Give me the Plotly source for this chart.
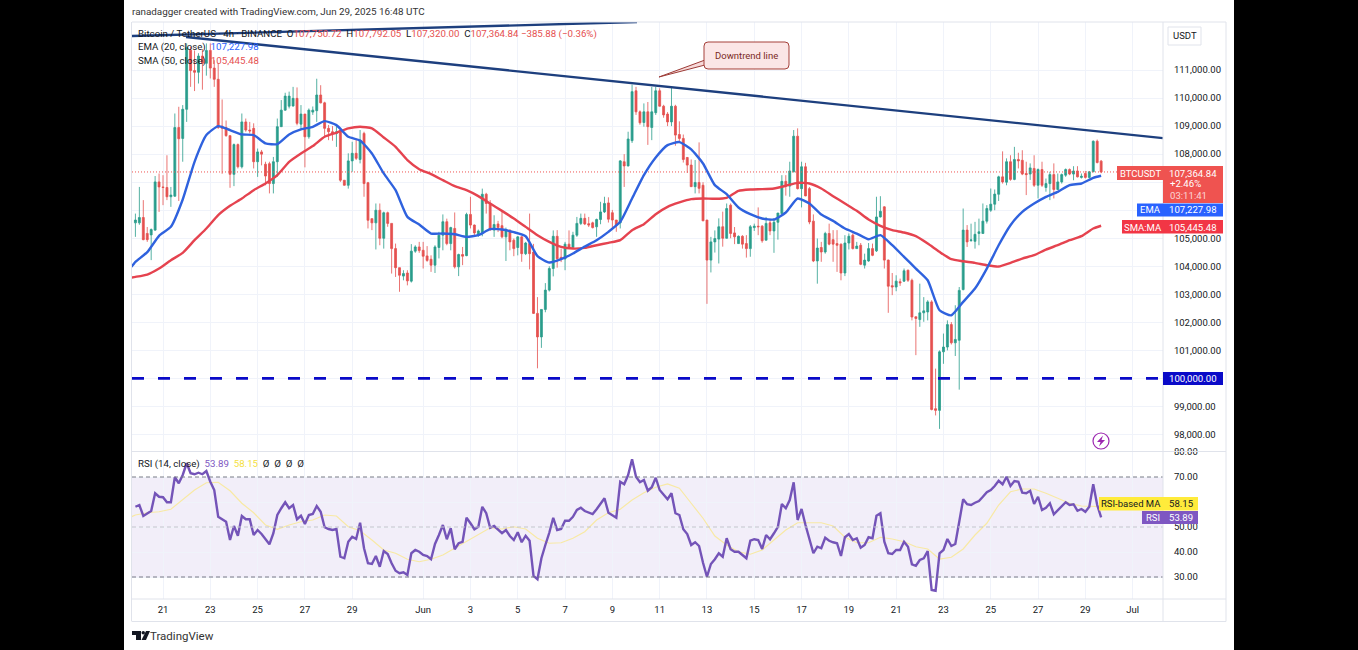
import pandas as pd
import plotly.graph_objects as go

# 4h candles, first one is May 19 20:00
opens = [
    105550, 105550, 105740, 105170, 105120, 105290, 107010, 106830, 106810, 106480,
    106500, 108950, 108560, 109600, 111710, 110980, 110920, 111500, 111240, 111700,
    111070, 110670, 109000, 108950, 108660, 107280, 108340, 107550, 109150, 108860,
    108920, 107730, 108080, 107640, 107660, 106950, 107730, 108980, 109570, 109710,
    109720, 109990, 109070, 109430, 108620, 109500, 109550, 110110, 109830, 108920,
    108800, 108740, 108860, 107070, 106890, 107760, 108030, 107810, 108740, 106980,
    105700, 105550, 106000, 105000, 105910, 105530, 104630, 103950, 103650, 103760,
    103470, 104540, 104690, 104570, 104370, 104250, 104040, 104670, 105110, 105590,
    104810, 105350, 103980, 104420, 104380, 105850, 105470, 105110, 105170, 106570,
    106240, 105290, 105510, 105450, 105050, 105290, 104930, 104670, 105050, 104450,
    104810, 104510, 102320, 101480, 102460, 103150, 103920, 105070, 104320, 104260,
    104790, 104680, 105110, 105530, 105710, 105520, 105550, 105410, 105670, 105940,
    106260, 105910, 105650, 105550, 107730, 107580, 108480, 110260, 109510, 109130,
    109510, 108950, 109480, 110260, 109710, 109430, 109150, 109710, 108700, 108560,
    107880, 107610, 106840, 106990, 106890, 105650, 104220, 104870, 104970, 105410,
    105000, 106180, 105190, 104810, 105070, 104810, 104630, 105380, 105430, 105430,
    104930, 105550, 105260, 105570, 105880, 107030, 106860, 107370, 108640, 106770,
    107550, 106770, 105610, 104190, 104670, 104510, 105170, 104950, 104810, 104790,
    103760, 104830, 105110, 104630, 104750, 104040, 104190, 104630, 104550, 105760,
    106120, 104220, 103310, 103260, 103450, 103470, 103860, 103500, 102200, 102100,
    102340, 102370, 102730, 98920, 98860, 100950, 101120, 101920, 101270, 101360,
    103170, 105290, 104920, 104890, 105170, 105170, 105610, 106000, 106215, 106570,
    107190, 107000, 107730, 107100, 107810, 107780, 107310, 107290, 107490, 106890,
    107450, 106810, 106950, 107270, 106740, 107010, 107250, 107450, 107290, 107400,
    107170, 107310, 107170, 107370, 108460, 107750.72,
]
highs = [
    105880, 106830, 106360, 105400, 105350, 107220, 107310, 107250, 107960, 106830,
    109450, 109690, 109750, 111950, 111830, 111700, 111600, 111750, 111950, 111950,
    111350, 111250, 109950, 109200, 108670, 108380, 108380, 109450, 109270, 109150,
    109100, 108200, 108150, 107730, 107730, 107900, 109270, 109930, 110190, 110230,
    110400, 110380, 109750, 109430, 109630, 109700, 110690, 110460, 109870, 109040,
    109000, 109040, 108880, 107070, 108030, 108440, 108560, 108860, 108800, 107010,
    105700, 106240, 106240, 105950, 105950, 105530, 104810, 103950, 103860, 103860,
    104790, 104750, 104870, 104870, 104720, 104390, 104750, 105230, 105850, 105700,
    105410, 105920, 104450, 104690, 105910, 106480, 105490, 105310, 106770, 106620,
    106360, 105820, 105620, 105990, 105380, 105310, 104990, 105070, 105070, 104870,
    105880, 104800, 102900, 102460, 103400, 104000, 105280, 105290, 104630, 104870,
    105280, 105230, 105760, 105880, 105880, 105760, 105590, 105700, 106300, 106480,
    106460, 106010, 105650, 107790, 108000, 108800, 110480, 110400, 109560, 109810,
    109860, 110400, 110400, 110350, 109760, 109500, 110360, 109760, 109170, 108700,
    107900, 107810, 107790, 108420, 107000, 105650, 105050, 105280, 105710, 105950,
    106240, 106240, 105400, 105100, 105110, 105110, 105470, 105520, 106100, 105470,
    105760, 105700, 105700, 105900, 107250, 107250, 107730, 108860, 108920, 107730,
    107690, 106830, 105850, 104990, 104870, 105230, 105520, 105290, 105290, 104810,
    105110, 105170, 105170, 104870, 104830, 104450, 104830, 104810, 106480, 106500,
    106140, 104240, 103760, 103680, 103560, 103920, 103880, 103560, 102200, 103380,
    102900, 102790, 102790, 100350, 101000, 101600, 102070, 102010, 102610, 103260,
    106060, 105470, 105520, 105585, 105700, 106240, 106180, 106775, 106740, 107230,
    108100, 107850, 107960, 108260, 108050, 108140, 107730, 107670, 107960, 107490,
    107730, 107130, 107370, 107670, 107310, 107310, 107490, 107490, 107570, 107570,
    107310, 107400, 107400, 108490, 108520, 107792.05,
]
lows = [
    105050, 105480, 104930, 104870, 104220, 105260, 105940, 106180, 106360, 106120,
    106480, 106330, 107730, 109150, 110400, 110250, 110520, 110300, 110800, 110700,
    110400, 108900, 107300, 108620, 106800, 106860, 107490, 107490, 108800, 108740,
    107490, 107190, 107600, 106890, 106600, 106600, 107190, 108980, 109550, 109630,
    109690, 109030, 108860, 107530, 108550, 109400, 109150, 109810, 108620, 108500,
    108480, 108260, 107010, 106880, 106770, 107370, 107790, 107670, 106480, 105350,
    105290, 104600, 104750, 104630, 105410, 103740, 103620, 103090, 103500, 103320,
    103420, 104480, 104480, 103920, 104160, 103800, 103760, 104280, 104570, 104750,
    104570, 103920, 103650, 104040, 104360, 105350, 105110, 105050, 105070, 105880,
    105260, 105050, 105220, 105000, 104190, 104570, 104360, 104390, 104160, 104400,
    103890, 102300, 100360, 101090, 102360, 103100, 103640, 103950, 104150, 103860,
    104630, 104630, 105050, 105470, 105470, 105400, 105350, 105050, 105500, 105900,
    105560, 105350, 105230, 105350, 106830, 107560, 108400, 109400, 109050, 108980,
    108330, 108500, 109400, 109700, 109300, 109000, 109000, 108300, 108400, 107700,
    107330, 106840, 106600, 106600, 105620, 102660, 103780, 104490, 104100, 104700,
    104990, 105000, 104790, 104800, 104630, 104310, 104340, 105260, 105110, 104840,
    104930, 105110, 104480, 104950, 105860, 106520, 106480, 107350, 106740, 106100,
    106500, 105500, 104150, 103380, 104160, 104450, 104750, 104160, 103800, 103500,
    103650, 104600, 104600, 104630, 104040, 103920, 104160, 104360, 104510, 105740,
    103920, 102340, 102970, 103110, 103300, 103440, 103440, 102070, 100830, 101840,
    102020, 102070, 98860, 98680, 98200, 100520, 101000, 101210, 100800, 99600,
    103140, 104690, 104870, 104630, 104750, 105170, 105525, 105940, 106000, 106330,
    106950, 106890, 107050, 107070, 107490, 107250, 106540, 107080, 106830, 106420,
    106830, 106660, 106360, 106420, 106720, 106950, 107190, 107250, 107070, 107170,
    107130, 107130, 107130, 107360, 107670, 107320,
]
closes = [
    105650, 105740, 104950, 104950, 105310, 107010, 106830, 106810, 106480, 106540,
    108950, 108550, 109600, 111800, 110980, 110920, 111500, 111240, 111700, 111070,
    110670, 108950, 108920, 108660, 107280, 108340, 107550, 109150, 108860, 108830,
    107730, 108080, 108000, 107220, 106950, 107730, 108980, 109570, 110070, 110070,
    109990, 109100, 109430, 108620, 109570, 109570, 110110, 109830, 108920, 108800,
    108750, 108800, 107070, 106890, 107760, 108030, 107850, 108500, 106950, 105640,
    105550, 106000, 105000, 105910, 105530, 104630, 103950, 103680, 103740, 103480,
    104540, 104690, 104560, 104360, 104210, 104040, 104690, 105110, 105590, 104810,
    105380, 103980, 104420, 104360, 105850, 105470, 105190, 105260, 106570, 106240,
    105310, 105490, 105380, 105050, 105310, 104870, 104630, 105050, 104450, 104830,
    104450, 102320, 101480, 102460, 103150, 103920, 105070, 104270, 104260, 104790,
    104680, 105110, 105530, 105710, 105510, 105470, 105380, 105670, 105940, 106240,
    105680, 105650, 105470, 107760, 107580, 108540, 110230, 109510, 109120, 109510,
    108980, 109510, 110260, 109710, 109400, 109150, 109710, 108680, 108560, 107810,
    107610, 106840, 106990, 106780, 105620, 104220, 104870, 104990, 105410, 105000,
    106060, 105170, 105050, 105070, 104790, 104630, 105410, 105430, 105410, 104910,
    105530, 105260, 105570, 105900, 107030, 106860, 107400, 108640, 106770, 107550,
    106510, 105580, 104190, 104650, 104510, 105170, 104790, 104790, 104750, 103760,
    104830, 105070, 104630, 104720, 104070, 104220, 104630, 104390, 105760, 105960,
    104220, 103290, 103260, 103470, 103410, 103840, 103500, 102190, 102140, 102340,
    102410, 102730, 98890, 98860, 100950, 101120, 101920, 101270, 101390, 103140,
    105290, 104870, 104940, 105140, 105230, 105610, 106060, 106215, 106575, 107190,
    107010, 107730, 107100, 107810, 107760, 107290, 107270, 107510, 106890, 107450,
    106890, 106950, 107270, 106740, 107010, 107270, 107450, 107290, 107400, 107190,
    107210, 107170, 107370, 108460, 107700, 107364.84,
]
rsi = [
    58.1, 58.8, 54.4, 55.5, 56.4, 63.5, 62.1, 61.9, 59.9, 59.9,
    69.9, 67.5, 70.8, 75.5, 71.5, 71.1, 71.7, 71.1, 72.4, 68.1,
    64.8, 54.1, 53.2, 52.1, 44.8, 50.4, 46.5, 54.4, 53.1, 53.1,
    46.8, 48.8, 47.2, 45.1, 43.1, 47.5, 54.8, 57.5, 59.9, 57.5,
    58.8, 53.1, 54.5, 51.2, 54.8, 55.2, 58.4, 56.1, 49.9, 49.2,
    48.8, 49.2, 38.1, 37.5, 44.1, 46.1, 45.2, 51.7, 41.5, 35.5,
    35.2, 38.4, 34.1, 40.4, 39.2, 35.5, 32.5, 31.5, 31.9, 30.8,
    39.5, 40.8, 40.1, 38.8, 38.4, 37.1, 43.2, 46.8, 50.8, 45.1,
    49.5, 41.1, 43.5, 44.1, 53.7, 51.5, 49.1, 50.1, 58.1, 55.5,
    49.7, 50.4, 49.1, 47.5, 48.8, 46.4, 44.8, 47.9, 43.9, 46.5,
    44.5, 30.4, 29.1, 37.5, 42.8, 47.7, 53.7, 48.8, 49.2, 52.5,
    52.5, 54.1, 56.8, 57.7, 56.4, 55.7, 55.2, 57.1, 59.5, 61.5,
    55.7, 54.8, 53.7, 68.1, 67.1, 70.8, 77.1, 70.1, 67.9, 68.8,
    64.5, 65.9, 69.7, 64.8, 62.8, 61.1, 63.5, 55.5, 54.8, 49.1,
    47.2, 42.8, 43.9, 42.4, 35.7, 30.1, 35.2, 37.1, 39.5, 38.1,
    45.5, 41.1, 40.1, 40.1, 38.8, 37.5, 44.5, 45.1, 44.8, 41.2,
    46.8, 45.1, 47.5, 50.1, 59.2, 57.5, 60.8, 67.9, 52.8, 57.2,
    50.8, 44.8, 39.5, 42.1, 41.5, 45.7, 44.5, 43.9, 43.5, 38.4,
    45.9, 47.2, 44.8, 45.5, 41.7, 42.8, 45.9, 45.5, 54.5, 55.5,
    44.1, 39.5, 39.2, 40.8, 40.8, 44.1, 42.1, 35.1, 34.5, 36.8,
    37.5, 40.4, 24.8, 24.5, 39.5, 40.8, 45.2, 42.4, 43.2, 52.1,
    61.1, 59.1, 58.8, 59.7, 60.4, 62.1, 63.9, 64.8, 66.4, 68.5,
    67.1, 70.1, 66.4, 68.4, 68.1, 63.7, 63.5, 64.5, 59.2, 62.1,
    56.8, 57.7, 59.5, 55.1, 56.8, 58.5, 59.9, 58.8, 59.1, 56.5,
    57.2, 56.1, 58.1, 67.1, 58.8, 53.89,
]

# moving averages (plus one bar before the first and the last one)
ema = [
    103980, 104158, 104503, 105086, 105407, 106383, 107727, 108680, 109001, 108858,
    108703, 108680, 108382, 108358, 108703, 108882, 108977, 109179, 109036, 108620,
    108489, 108025, 107311, 106716, 105763, 105489, 105168, 105168, 105144, 105049,
    105108, 105323, 105311, 105216, 105073, 104359, 104133, 104252, 104454, 104704,
    104930, 105229, 105586, 106419, 107252, 107882, 108322, 108430, 108168, 107668,
    106895, 106573, 106096, 105858, 105704, 105668, 105918, 106418, 106239, 105846,
    105620, 105347, 105168, 104966, 105109, 104752, 104335, 103919, 103502, 102431,
    102252, 102729, 103205, 103919, 104751, 105466, 105942, 106239, 106477, 106656,
    106894, 106953, 107155, 107227.98,
]
sma = [
    103598, 103622, 103705, 103920, 104217, 104479, 104931, 105347, 105824, 106157,
    106419, 106716, 106954, 107252, 107727, 108025, 108287, 108620, 108763, 108918,
    108977, 108918, 108596, 108263, 107787, 107464, 107286, 107072, 106858, 106715,
    106501, 106239, 105977, 105703, 105406, 105109, 104870, 104692, 104632, 104656,
    104751, 104836, 104931, 105288, 105502, 105859, 106121, 106276, 106395, 106419,
    106407, 106443, 106691, 106739, 106751, 106775, 106870, 106977, 106953, 106775,
    106501, 106239, 105977, 105668, 105442, 105287, 105204, 105073, 104811, 104514,
    104252, 104180, 104121, 104037, 103990, 104121, 104276, 104394, 104597, 104751,
    104930, 105073, 105347, 105445.48,
]
rsi_ma = [
    54.1, 54.8, 55.7, 56.1, 57.1, 61.1, 64.8, 67.7, 67.9, 64.5,
    59.5, 55.7, 50.8, 49.1, 50.8, 52.1, 52.8, 54.8, 54.4, 50.1,
    48.5, 44.8, 40.8, 39.5, 37.1, 36.1, 37.1, 38.8, 41.5, 44.5,
    47.1, 49.7, 49.2, 50.1, 49.2, 45.5, 43.5, 43.7, 45.5, 48.1,
    52.8, 55.7, 57.1, 60.8, 63.7, 65.9, 67.2, 65.5, 59.5, 53.5,
    46.4, 42.8, 40.1, 39.1, 40.8, 44.8, 48.8, 51.7, 51.7, 51.7,
    50.4, 45.9, 43.7, 43.7, 45.9, 45.2, 44.1, 42.1, 41.2, 37.2,
    37.9, 41.2, 46.8, 51.5, 58.8, 64.1, 65.2, 65.2, 63.5, 61.5,
    59.5, 58.4, 58.4, 58.15,
]

trend_times = ["2025-05-21 23:20", "2025-07-02 06:47"]
trend_prices = [112178, 108572]
upper_times = ["2025-05-19 16:32", "2025-06-10 01:00"]
upper_prices = [112214, 112714]
support_level = 100000
last_price = 107364.84

date_ticks = ["2025-05-21", "2025-05-23", "2025-05-25", "2025-05-27", "2025-05-29", "2025-06-01",
              "2025-06-03", "2025-06-05", "2025-06-07", "2025-06-09", "2025-06-11", "2025-06-13",
              "2025-06-15", "2025-06-17", "2025-06-19", "2025-06-21", "2025-06-23", "2025-06-25",
              "2025-06-27", "2025-06-29", "2025-07-01"]
date_labels = ["21", "23", "25", "27", "29", "Jun", "3", "5", "7", "9", "11", "13",
               "15", "17", "19", "21", "23", "25", "27", "29", "Jul"]
price_ticks = [98000 + 1000 * i for i in range(14)]
rsi_ticks = [30, 40, 50, 60, 70, 80]

X_RANGE = ["2025-05-19 16:32", "2025-07-02 06:47"]
W, H = 1358, 650
FONT = "Roboto"
GREEN = "#2a9d8c"
RED = "#e5504f"
GRID = "#f0f3fa"
BORDER = "#e0e3eb"
TEXT = "#131722"

bar_times = pd.date_range("2025-05-19 20:00", periods=len(closes), freq="4h")
ma_times = [bar_times[0] - pd.Timedelta(hours=4)] + list(bar_times[0:244:3]) + [bar_times[-1]]


def px(x):
    return x / W


def py(y):
    return 1 - y / H


def box(x0, y0, x1, y1, color, line=None):
    return dict(type="rect", xref="paper", yref="paper", x0=px(x0), x1=px(x1), y0=py(y0), y1=py(y1),
                fillcolor=color, line=dict(color=line or color, width=1 if line else 0), layer="above")


def hline(x0, x1, y):
    return dict(type="line", xref="paper", yref="paper", x0=px(x0), x1=px(x1), y0=py(y), y1=py(y),
                line=dict(color=BORDER, width=1), layer="above")


def path(points, color, line=None):
    d = "M " + " L ".join(f"{px(a):.5f},{py(b):.5f}" for a, b in points) + " Z"
    return dict(type="path", xref="paper", yref="paper", path=d, fillcolor=color,
                line=dict(color=line or color, width=1 if line else 0), layer="above")


def label(x, y, text, color=TEXT, size=10, anchor="center"):
    return dict(xref="paper", yref="paper", x=px(x), y=py(y), text=text, showarrow=False,
                xanchor=anchor, yanchor="middle", font=dict(family=FONT, size=size, color=color),
                borderpad=0, borderwidth=0)


fig = go.Figure()

fig.add_trace(go.Candlestick(
    x=bar_times, open=opens, high=highs, low=lows, close=closes,
    increasing=dict(line=dict(color=GREEN, width=0.8), fillcolor=GREEN),
    decreasing=dict(line=dict(color=RED, width=0.8), fillcolor=RED),
    whiskerwidth=0, xaxis="x", yaxis="y", showlegend=False,
))
fig.add_trace(go.Scatter(x=X_RANGE, y=[last_price, last_price], mode="lines",
                         line=dict(color="#ef5350", width=1, dash="1px,2px")))
fig.add_trace(go.Scatter(x=ma_times, y=sma, mode="lines",
                         line=dict(color="#e5434f", width=2.4, shape="spline", smoothing=0.5)))
fig.add_trace(go.Scatter(x=ma_times, y=ema, mode="lines",
                         line=dict(color="#2f62de", width=2.4, shape="spline", smoothing=0.5)))
fig.add_trace(go.Scatter(x=X_RANGE, y=[support_level, support_level], mode="lines",
                         line=dict(color="#0a0ac8", width=2.6, dash="12px,14px")))
fig.add_trace(go.Scatter(x=trend_times, y=trend_prices, mode="lines", line=dict(color="#1d3f7e", width=2.4)))
fig.add_trace(go.Scatter(x=upper_times, y=upper_prices, mode="lines", line=dict(color="#1d3f7e", width=2.4)))

fig.add_trace(go.Scatter(x=ma_times, y=rsi_ma, mode="lines", xaxis="x2", yaxis="y2",
                         line=dict(color="#f8e9a4", width=1.2)))
fig.add_trace(go.Scatter(x=bar_times, y=rsi, mode="lines", xaxis="x2", yaxis="y2",
                         line=dict(color="#7454b8", width=2.4)))

shapes = [
    # white card on the black page
    dict(type="rect", xref="paper", yref="paper", x0=px(124), x1=px(1234), y0=0, y1=1,
         fillcolor="white", line=dict(width=0), layer="below"),
    # RSI band and levels
    dict(type="rect", xref="paper", yref="y2", x0=px(132), x1=px(1163), y0=30, y1=70,
         fillcolor="rgba(126,87,194,0.1)", line=dict(width=0), layer="below"),
    dict(type="line", xref="paper", yref="y2", x0=px(132), x1=px(1163), y0=70, y1=70,
         line=dict(color="#787b86", width=1, dash="4px,3px")),
    dict(type="line", xref="paper", yref="y2", x0=px(132), x1=px(1163), y0=50, y1=50,
         line=dict(color="#c4c4cc", width=1, dash="4px,3px")),
    dict(type="line", xref="paper", yref="y2", x0=px(132), x1=px(1163), y0=30, y1=30,
         line=dict(color="#787b86", width=1, dash="4px,3px")),
    # frame
    hline(132, 1226, 22), hline(132, 1226, 451.5), hline(132, 1226, 599), hline(132, 1226, 621.5),
    dict(type="line", xref="paper", yref="paper", x0=px(131.5), x1=px(131.5), y0=py(22), y1=py(621.5),
         line=dict(color=BORDER, width=1), layer="above"),
    dict(type="line", xref="paper", yref="paper", x0=px(1226), x1=px(1226), y0=py(22), y1=py(621.5),
         line=dict(color=BORDER, width=1), layer="above"),
    dict(type="line", xref="paper", yref="paper", x0=px(1163), x1=px(1163), y0=py(22), y1=py(621.5),
         line=dict(color=BORDER, width=1), layer="above"),
    # USDT button
    box(1168, 27, 1201, 45, "white", BORDER),
    # price labels
    box(1117, 166, 1163, 180, "#ef5350"),
    box(1163, 166, 1223, 203, "#ef5350"),
    box(1137, 203.5, 1163, 216.5, "#2962ff"),
    box(1163, 203.5, 1223, 216.5, "#2962ff"),
    box(1122, 220, 1163, 233.5, "#f23645"),
    box(1163, 220, 1223, 233.5, "#f23645"),
    box(1163, 372, 1223, 385, "#0a0ac8"),
    box(1099, 497, 1163, 510.5, "#ffeb3b"),
    box(1163, 497, 1198, 510.5, "#ffeb3b"),
    box(1142, 511, 1163, 524, "#7e57c2"),
    box(1163, 511, 1198, 524, "#7e57c2"),
    # callout
    path([(659, 77), (705, 60), (705, 65), (659, 77)], "#f7d9d9", "#9c3b36"),
    dict(type="path", xref="paper", yref="paper", layer="above", fillcolor="#fbe6e6",
         line=dict(color="#a5403a", width=1),
         path=(f"M {px(708):.5f},{py(42):.5f} L {px(785):.5f},{py(42):.5f} "
               f"Q {px(789):.5f},{py(42):.5f} {px(789):.5f},{py(46):.5f} L {px(789):.5f},{py(65):.5f} "
               f"Q {px(789):.5f},{py(69):.5f} {px(785):.5f},{py(69):.5f} L {px(708):.5f},{py(69):.5f} "
               f"Q {px(704):.5f},{py(69):.5f} {px(704):.5f},{py(65):.5f} L {px(704):.5f},{py(46):.5f} "
               f"Q {px(704):.5f},{py(42):.5f} {px(708):.5f},{py(42):.5f} Z")),
    # lightning badge
    dict(type="circle", xref="paper", yref="paper", x0=px(1093), x1=px(1109), y0=py(449), y1=py(433),
         fillcolor="white", line=dict(color="#9c27b0", width=1.2), layer="above"),
    path([(1103, 435.5), (1097, 442), (1100.5, 442), (1099, 446.5), (1105, 440), (1101.5, 440)], "#9c27b0"),
    # TradingView logo
    path([(132, 631), (141, 631), (141, 640), (136, 640), (136, 635), (132, 635)], "#131722"),
    dict(type="circle", xref="paper", yref="paper", x0=px(141.5), x1=px(145), y0=py(634.5), y1=py(631),
         fillcolor="#131722", line=dict(width=0), layer="above"),
    path([(146, 631), (150, 631), (146, 640), (141.5, 640)], "#131722"),
]

red_values = "#e5504f"
legend_main = (
    "Bitcoin / TetherUS · 4h · BINANCE  O"
    f"<span style='color:{red_values}'>107,750.72</span>  H"
    f"<span style='color:{red_values}'>107,792.05</span>  L"
    f"<span style='color:{red_values}'>107,320.00</span>  C"
    f"<span style='color:{red_values}'>107,364.84 −385.88 (−0.36%)</span>"
)
legend_rsi = (
    "RSI (14, close)  <span style='color:#7e57c2'>53.89</span>  "
    "<span style='color:#f5df3d'>58.15</span>  Ø  Ø  Ø  Ø"
)

annotations = [
    label(132, 12, "ranadagger created with TradingView.com, Jun 29, 2025 16:48 UTC", "#333333", 9.85, "left"),
    label(138, 33.5, legend_main, TEXT, 9.7, "left"),
    label(138, 47.5, "EMA (20, close)  <span style='color:#2962ff'>107,227.98</span>", TEXT, 9.7, "left"),
    label(138, 61, f"SMA (50, close)  <span style='color:{red_values}'>105,445.48</span>", TEXT, 9.7, "left"),
    label(138, 464, legend_rsi, TEXT, 9.7, "left"),
    label(1184.5, 36, "USDT", TEXT, 9.5),
    label(746.5, 55, "Downtrend line", "#7a2a25", 9.5),
    label(1140, 173, "BTCUSDT", "white", 9.5),
    label(1193, 173, "107,364.84", "white", 9.6),
    label(1170, 184, "+2.46%", "white", 9.6, "left"),
    label(1170, 195, "03:11:41", "#fbd5d5", 9.6, "left"),
    label(1150, 210, "EMA", "white", 9.5),
    label(1193, 210, "107,227.98", "white", 9.6),
    label(1142.5, 227, "SMA:MA", "white", 9.5),
    label(1193, 227, "105,445.48", "white", 9.6),
    label(1193, 378.5, "100,000.00", "white", 9.6),
    label(1131, 504, "RSI-based MA", TEXT, 9.5),
    label(1181, 504, "58.15", TEXT, 9.6),
    label(1152.5, 517.5, "RSI", "white", 9.5),
    label(1181, 517.5, "53.89", "white", 9.6),
    label(150, 636, "TradingView", "#333333", 11.5, "left"),
]

axis_font = dict(family=FONT, size=9.5, color=TEXT)
# labels under the price boxes are left out, the boxes cover those levels anyway
price_ticktext = [f"{p:,.2f}" if p not in (100000, 106000, 107000) else "" for p in price_ticks]
rsi_ticktext = [f"{v:.2f}" if v != 60 else "" for v in rsi_ticks]

fig.update_layout(
    width=W, height=H, autosize=False,
    margin=dict(l=0, r=0, t=0, b=0, pad=0, autoexpand=False),
    paper_bgcolor="black",
    plot_bgcolor="rgba(0,0,0,0)",
    showlegend=False,
    hovermode=False,
    dragmode=False,
    shapes=shapes,
    annotations=annotations,
    xaxis=dict(domain=[px(132), px(1163)], range=X_RANGE, type="date", anchor="y",
               rangeslider=dict(visible=False), tickvals=date_ticks, showticklabels=False,
               showgrid=True, gridcolor=GRID, gridwidth=1, zeroline=False, ticks=""),
    yaxis=dict(domain=[py(451.5), py(22)], range=[97393, 112714], side="right", anchor="x",
               tickvals=price_ticks, ticktext=price_ticktext, tickfont=axis_font, ticks="outside",
               ticklen=8, tickcolor="rgba(0,0,0,0)", showgrid=True, gridcolor=GRID, zeroline=False,
               showline=False),
    xaxis2=dict(domain=[px(132), px(1163)], range=X_RANGE, type="date", anchor="y2",
                tickvals=date_ticks, ticktext=date_labels, tickfont=axis_font, tickangle=0,
                ticks="outside", ticklen=2, tickcolor="rgba(0,0,0,0)",
                showgrid=True, gridcolor=GRID, zeroline=False),
    yaxis2=dict(domain=[py(599), py(451.5)], range=[21.2, 80.2], side="right", anchor="x2",
                tickvals=rsi_ticks, ticktext=rsi_ticktext, tickfont=axis_font, ticks="outside",
                ticklen=8, tickcolor="rgba(0,0,0,0)", showgrid=True, gridcolor=GRID, zeroline=False),
)

# pin the graph to the top-left corner of the window
pin_graph = (
    "document.body.style.margin='0';"
    "var g=document.getElementById('{plot_id}');"
    "g.style.position='absolute';g.style.top='0';g.style.left='0';"
)
fig.write_html("out.html", config={"displayModeBar": False}, post_script=pin_graph)
